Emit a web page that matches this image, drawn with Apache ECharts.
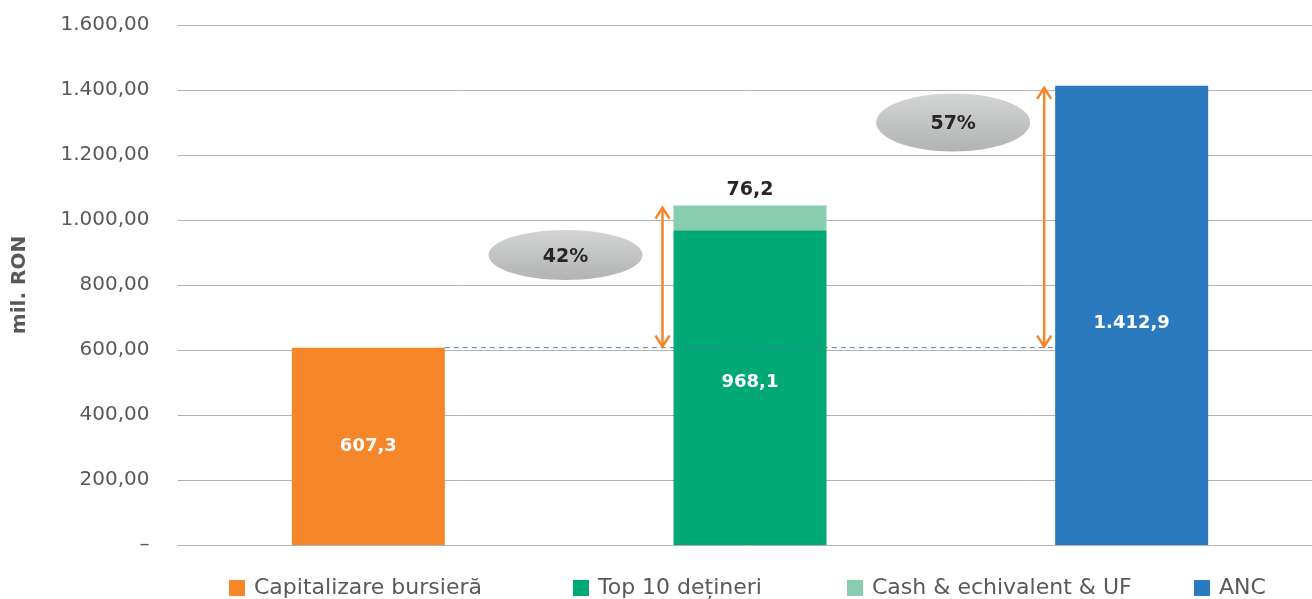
<!DOCTYPE html>
<html>
<head>
<meta charset="utf-8">
<script src="https://cdn.jsdelivr.net/npm/echarts@6/dist/echarts.min.js"></script>
<style>
  html, body { margin: 0; padding: 0; background: #fff; }
  #chart { width: 1312px; height: 599px; }
</style>
</head>
<body>
<div id="chart"></div>
<script>
// data
const categories = ['Capitalizare bursieră', 'Top 10 dețineri', 'ANC'];
const capitalizare = [607.3, null, null];
const top10 = [null, 968.1, null];
const cash = [null, 76.2, null];
const anc = [null, null, 1412.9];
const seriesNames = ['Capitalizare bursieră', 'Top 10 dețineri', 'Cash & echivalent & UF', 'ANC'];
// gaps: category index, from, to, label, value where the bubble sits
const gapCats = [1, 2];
const gapFrom = [607.3, 607.3];
const gapTo = [1044.3, 1412.9];
const gapLabels = ['42%', '57%'];
const gapLabelAt = [892, 1300];

const colors = ['#F5862A', '#00A874', '#88CDB0', '#2B7ABF'];
const FONT = '"DejaVu Sans", sans-serif';
const BAR_W = 153;

function fmtNum(v, dec) {
  let s = v.toFixed(dec);
  let [i, d] = s.split('.');
  i = i.replace(/\B(?=(\d{3})+(?!\d))/g, '.');
  return d ? i + ',' + d : i;
}

const chart = echarts.init(document.getElementById('chart'));

const barLabel = {
  show: true,
  position: 'inside',
  color: '#fff',
  fontFamily: FONT,
  fontWeight: 'bold',
  fontSize: 18,
  formatter: p => fmtNum(p.value, 1)
};

function mkBar(name, data, color, label) {
  return {
    name: name,
    type: 'bar',
    stack: 'a',
    barWidth: BAR_W,
    data: data,
    itemStyle: { color: color },
    label: label,
    z: 3
  };
}

const legendLeft = [224, 568, 842, 1189];
// bubble offsets left of each arrow (px)
const bubbleDx = [97, 91];
const bubbleRy = [25, 29];

const option = {
  animation: false,
  grid: { left: 177.5, width: 1145, top: 25, bottom: 54, outerBoundsMode: 'none' },
  legend: seriesNames.map((n, i) => ({
    data: [n],
    left: legendLeft[i],
    top: 572,
    itemWidth: 16,
    itemHeight: 16,
    itemGap: 0,
    icon: 'rect',
    textStyle: { color: '#595959', fontFamily: FONT, fontSize: 22, padding: [0, 0, 0, 4] },
    selectedMode: false
  })),
  xAxis: {
    type: 'category',
    data: categories,
    axisLine: { show: false },
    axisTick: { show: false },
    axisLabel: { show: false }
  },
  yAxis: {
    type: 'value',
    min: 0,
    max: 1600,
    interval: 200,
    name: 'mil. RON',
    nameLocation: 'middle',
    nameRotate: 90,
    nameGap: 148,
    nameTextStyle: { color: '#595959', fontFamily: FONT, fontWeight: 'bold', fontSize: 20 },
    axisLine: { show: false },
    axisTick: { show: false },
    axisLabel: {
      color: '#595959',
      fontFamily: FONT,
      fontSize: 20,
      margin: 28,
      formatter: v => v === 0 ? '–' : fmtNum(v, 2)
    },
    splitLine: { lineStyle: { color: '#b3b3b3', width: 1 } }
  },
  series: [
    mkBar(seriesNames[0], capitalizare, colors[0], barLabel),
    mkBar(seriesNames[1], top10, colors[1], Object.assign({}, barLabel, { offset: [0, -5] })),
    mkBar(seriesNames[2], cash, colors[2], {
      show: true, position: 'top', distance: 6, color: '#262626',
      fontFamily: FONT, fontWeight: 'bold', fontSize: 19,
      formatter: p => fmtNum(p.value, 1)
    }),
    mkBar(seriesNames[3], anc, colors[3], Object.assign({}, barLabel, { offset: [0, 8] })),
    {
      // dashed reference line at market cap level
      type: 'custom',
      z: 4,
      silent: true,
      data: [[0, 2, capitalizare[0]]],
      renderItem: function (params, api) {
        const a = api.coord([api.value(0), api.value(2)]);
        const b = api.coord([api.value(1), api.value(2)]);
        return {
          type: 'line',
          shape: { x1: a[0] + BAR_W / 2, y1: a[1], x2: b[0] - BAR_W / 2, y2: b[1] },
          style: { stroke: '#4f7db9', lineWidth: 1, lineDash: [5, 4] }
        };
      }
    },
    {
      // double arrows with percentage bubbles
      type: 'custom',
      z: 5,
      silent: true,
      data: gapCats.map((c, i) => [c, gapFrom[i], gapTo[i], gapLabelAt[i]]),
      renderItem: function (params, api) {
        const i = params.dataIndex;
        const p0 = api.coord([api.value(0), api.value(1)]);
        const p1 = api.coord([api.value(0), api.value(2)]);
        const pl = api.coord([api.value(0), api.value(3)]);
        const x = p0[0] - BAR_W / 2 - 11;
        const yb = p0[1] - 1, yt = p1[1] + 2;
        const st = { stroke: '#F5862A', lineWidth: 2.5, fill: null };
        return {
          type: 'group',
          children: [
            { type: 'line', shape: { x1: x, y1: yt, x2: x, y2: yb }, style: st },
            { type: 'polyline', shape: { points: [[x - 7, yt + 11], [x, yt], [x + 7, yt + 11]] }, style: st },
            { type: 'polyline', shape: { points: [[x - 7, yb - 11], [x, yb], [x + 7, yb - 11]] }, style: st },
            {
              type: 'ellipse',
              shape: { cx: x - bubbleDx[i], cy: pl[1], rx: 77, ry: bubbleRy[i] },
              style: {
                fill: new echarts.graphic.LinearGradient(0, 0, 0, 1, [
                  { offset: 0, color: '#d3d4d4' },
                  { offset: 1, color: '#b2b3b4' }
                ])
              }
            },
            {
              type: 'text',
              x: x - bubbleDx[i],
              y: pl[1] + 2,
              style: {
                text: gapLabels[i],
                fill: '#262626',
                font: 'bold 19px ' + FONT,
                align: 'center',
                verticalAlign: 'middle'
              }
            }
          ]
        };
      }
    }
  ]
};

chart.setOption(option);
</script>
</body>
</html>
